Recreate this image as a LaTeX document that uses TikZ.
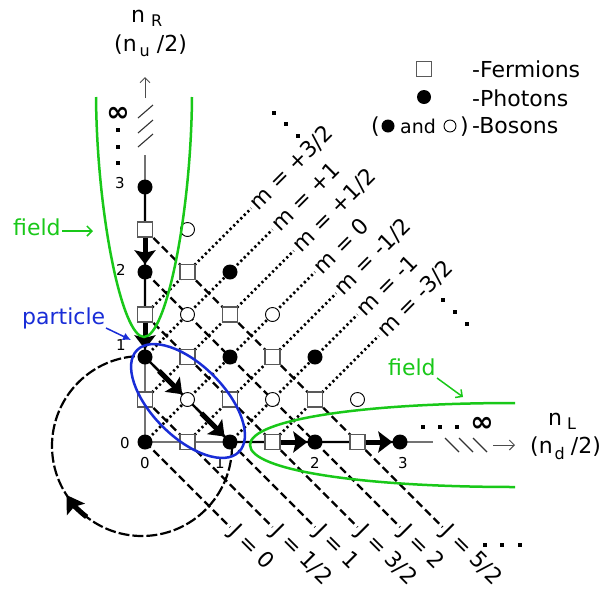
\documentclass[tikz,border=0pt]{standalone}
\usepackage{fontspec}
\setmainfont{DejaVu Sans}
\usetikzlibrary{arrows.meta,calc}
\pgfdeclarelayer{bg}
\pgfsetlayers{bg,main}
\definecolor{fgreen}{RGB}{25,200,25}
\definecolor{pblue}{RGB}{25,45,215}
\tikzset{
 fermion/.style={rectangle,draw=black!65,fill=white,line width=1.1pt,minimum size=15pt,inner sep=0pt},
 photon/.style={circle,fill=black,minimum size=15pt,inner sep=0pt},
 boson/.style={circle,draw=black,fill=white,line width=0.9pt,minimum size=14pt,inner sep=0pt},
 jline/.style={line width=2.3pt,dash pattern=on 8pt off 4pt},
 mline/.style={line width=2.5pt,dash pattern=on 2.2pt off 2.8pt},
 walkline/.style={line width=2.2pt},
 axisline/.style={draw=black!55,line width=1.3pt},
 bigarr/.style={line width=5pt,-{Stealth[length=14pt,width=21pt,inset=2.5pt]}},
 lbl/.style={font=\fontsize{22}{26}\selectfont,inner sep=0pt},
 jlbl/.style={font=\fontsize{22}{26}\selectfont,inner sep=3pt,rotate=-45,anchor=west},
 mlbl/.style={font=\fontsize{22}{26}\selectfont,inner sep=3pt,rotate=45,anchor=west},
 num/.style={font=\fontsize{15}{18}\selectfont,inner sep=0pt},
 circarc/.style={line width=2.2pt,dash pattern=on 11pt off 3pt},
 fieldcurve/.style={draw=fgreen,line width=2.5pt},
 thinarr/.style={-{Straight Barb[length=5pt,width=10pt]},line width=1.2pt},
}
\begin{document}
\begin{tikzpicture}[x=1pt,y=1pt]
\useasboundingbox (0,-595) rectangle (616,0);
% ---------- lattice nodes
\foreach \a in {0,...,6}{
 \pgfmathtruncatemacro\bmax{6-\a}
 \foreach \b in {0,...,\bmax}{
  \pgfmathtruncatemacro\s{\a+\b}
  \ifodd\s\relax\def\kind{fermion}\else\ifodd\a\relax\def\kind{boson}\else\def\kind{photon}\fi\fi
  \node[\kind] (p-\a-\b) at ({145+42.5*\a},{-442+42.5*\b}) {};
 }
}
% ---------- background lines
\begin{pgfonlayer}{bg}
 \foreach \k in {0,...,5}{
  \coordinate (jend-\k) at ({230+42.5*\k},-527);
  \draw[jline] (p-0-\k.center) -- (jend-\k);
 }
 \coordinate (mend3) at (251.25,-208.25);
 \coordinate (mend2) at (272.5,-229.5);
 \coordinate (mend1) at (293.75,-250.75);
 \coordinate (mend0) at (315,-272);
 \coordinate (mendm1) at (336.25,-293.25);
 \coordinate (mendm2) at (357.5,-314.5);
 \coordinate (mendm3) at (378.75,-335.75);
 \draw[mline] (p-0-3.center) -- (mend3);
 \draw[mline] (p-0-2.center) -- (mend2);
 \draw[mline] (p-0-1.center) -- (mend1);
 \draw[mline] (p-0-0.center) -- (mend0);
 \draw[mline] (p-1-0.center) -- (mendm1);
 \draw[mline] (p-2-0.center) -- (mendm2);
 \draw[mline] (p-3-0.center) -- (mendm3);
 % axes
 \coordinate (vtop) at (145,-155);
 \coordinate (hend) at (433,-442);
 \draw[axisline] (p-0-2.center) -- (p-0-0.center) -- (p-2-0.center);
 \draw[axisline] (p-0-6.center) -- (vtop);
 \draw[axisline] (p-6-0.center) -- (hend);
 % dashed circle
 \coordinate (cc) at ($(p-0-0)+(-3,-4)$);
 \draw[circarc] ($(cc)+(90,0)$) arc[start angle=0,end angle=-270,radius=90];
 \draw[line width=5pt,-{Stealth[length=17pt,width=21pt,inset=3pt]}]
   ($(cc)+(-128:90)$) arc[start angle=-128,end angle=-147,radius=90];
 % walk path
 \draw[walkline] (p-0-6.center) -- (p-0-2.center) -- (p-2-0.center) -- (p-6-0.center);
\end{pgfonlayer}
% ---------- big arrows
\draw[bigarr] (p-0-5) -- (p-0-4);
\draw[bigarr] (p-0-3) -- (p-0-2);
\draw[bigarr,shorten <=12pt] (p-0-2) -- (p-1-1);
\draw[bigarr,shorten <=12pt] (p-1-1) -- (p-2-0);
\draw[bigarr] (p-3-0) -- (p-4-0);
\draw[bigarr] (p-5-0) -- (p-6-0);
% ---------- J labels
\node[jlbl] (j0) at (jend-0) {J = 0};
\node[jlbl] (j1) at (jend-1) {J = 1/2};
\node[jlbl] (j2) at (jend-2) {J = 1};
\node[jlbl] (j3) at (jend-3) {J = 3/2};
\node[jlbl] (j4) at (jend-4) {J = 2};
\node[jlbl] (j5) at (jend-5) {J = 5/2};
% ---------- m labels
\node[mlbl] (m3) at (mend3) {m = +3/2};
\node[mlbl] (m2) at (mend2) {m = +1};
\node[mlbl] (m1) at (mend1) {m = +1/2};
\node[mlbl] (m0) at (mend0) {m = 0};
\node[mlbl] (mm1) at (mendm1) {m = -1/2};
\node[mlbl] (mm2) at (mendm2) {m = -1};
\node[mlbl] (mm3) at (mendm3) {m = -3/2};
% ---------- dots
\foreach \x/\y in {118/130,118/147,118/163,423/427,440/427,457/427,485/545,502/545,520/545}
  \fill (\x-2.3,-\y-2.3) rectangle (\x+2.3,-\y+2.3);
\foreach \x/\y in {274/113,286/124,298/136,443/300,455/312,467/324}
  \fill (\x-1.9,-\y-1.9) rectangle (\x+1.9,-\y+1.9);
% ---------- infinity, breaks, axis arrows
\node[lbl,font=\fontsize{28}{30}\selectfont\bfseries] (infR) at (118,-114) {∞};
\node[lbl,font=\fontsize{28}{30}\selectfont\bfseries] (infL) at (482,-424) {∞};
\foreach \y in {118,133,147}
  \draw[black!80,line width=1.1pt] (138,-\y) -- (153,-\y+13);
\foreach \x in {445,459,473}
  \draw[black!80,line width=1.1pt] (\x,-438) -- (\x+14,-452);
\coordinate (uparrA) at (145,-98);
\coordinate (uparrB) at (145,-77);
\coordinate (rarrA) at (493,-445);
\coordinate (rarrB) at (515,-445);
\draw[thinarr,black!70,line width=1pt] (uparrA) -- (uparrB);
\draw[thinarr,black!70,line width=1pt] (rarrA) -- (rarrB);
% ---------- axis labels
\node[lbl,anchor=base west] (nR) at (131,-22) {n\hspace{6pt}\raisebox{-4pt}{\fontsize{16}{18}\selectfont R}};
\node[lbl,anchor=base west] (nu) at (114,-51) {(n\hspace{3pt}\raisebox{-5pt}{\fontsize{16}{18}\selectfont u}\hspace{7pt}/2)};
\node[lbl,anchor=base west] (nL) at (548,-425) {n\hspace{5pt}\raisebox{-4pt}{\fontsize{16}{18}\selectfont L}};
\node[lbl,anchor=base west] (nd) at (530,-453) {(n\hspace{2pt}\raisebox{-6pt}{\fontsize{16}{18}\selectfont d}\hspace{6pt}/2)};
% numbers
\node[num] (l0a) at (125,-443) {0};
\node[num] (l0b) at (145,-463) {0};
\node[num] (l1b) at (220,-463) {1};
\node[num] (l2b) at (315,-463) {2};
\node[num] (l3b) at (403,-463) {3};
\node[num] (l1v) at (121,-345) {1};
\node[num] (l2v) at (121,-270) {2};
\node[num] (l3v) at (120,-183) {3};
% ---------- field curves and particle ellipse
\draw[fieldcurve] (96,-97) .. controls (97,-215) and (122,-337) .. (144,-337)
   .. controls (166,-337) and (191,-215) .. (192,-97);
\draw[fieldcurve] (515,-403) .. controls (360,-403) and (250,-420) .. (250,-445)
   .. controls (250,-470) and (360,-487) .. (515,-487);
\draw[pblue,line width=2.5pt,rotate around={-45:(188,-401)}] (188,-401) ellipse[x radius=72,y radius=36];
% ---------- annotations
\node[lbl,text=fgreen,anchor=base west] (fieldA) at (13,-235) {field};
\coordinate (fieldAtip) at (93,-231);
\coordinate (fieldAtail) at (62,-231);
\draw[fgreen,thinarr,line width=1.5pt] (fieldAtail) -- (fieldAtip);
\node[lbl,text=fgreen,anchor=base west] (fieldB) at (388,-375) {field};
\coordinate (fieldBtail) at (437,-378);
\coordinate (fieldBtip) at (463,-397);
\draw[fgreen,thinarr,line width=1.5pt] (fieldBtail) -- (fieldBtip);
\node[lbl,text=pblue,anchor=base west] (part) at (22,-324) {particle};
\coordinate (partTail) at (106,-328);
\coordinate (partTip) at (131,-340);
\draw[pblue,line width=1.5pt,-{Latex[length=8pt,width=8pt]}] (partTail) -- (partTip);
% ---------- legend
\node[fermion] (lgF) at (424,-69) {};
\node[photon,minimum size=14pt] (lgP) at (424,-97) {};
\node[lbl,anchor=base west] (tF) at (472,-77) {-Fermions};
\node[lbl,anchor=base west] (tP) at (472,-106) {-Photons};
\node[lbl,anchor=base west] (tpo) at (371,-133) {(};
\node[photon,minimum size=13pt] (lgB1) at (388,-126) {};
\node[inner sep=0pt,anchor=base west,font=\fontsize{19}{22}\selectfont] (tand) at (400,-133) {and};
\node[boson,minimum size=12pt] (lgB2) at (450,-126) {};
\node[lbl,anchor=base west] (tpc) at (460,-133) {)};
\node[lbl,anchor=base west] (tB) at (472,-133) {-Bosons};
\end{tikzpicture}
\end{document}
